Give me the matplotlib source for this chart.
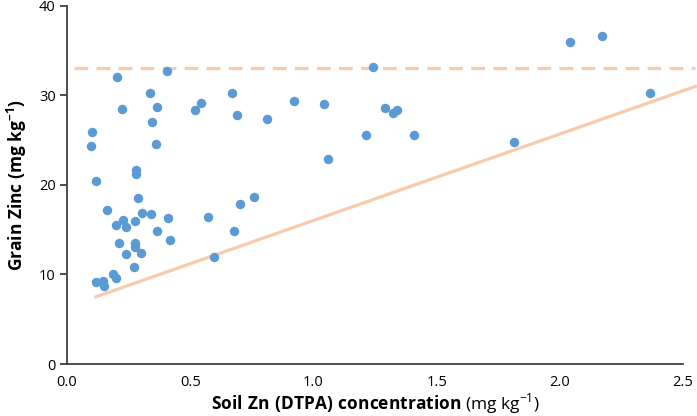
import numpy as np
import matplotlib
matplotlib.use('Agg')
import matplotlib.pyplot as plt

plt.rcParams['font.family'] = 'Open Sans'
plt.rcParams['mathtext.fontset'] = 'custom'
plt.rcParams['mathtext.rm'] = 'Open Sans'
plt.rcParams['mathtext.bf'] = 'Open Sans:bold'

# soil Zn (DTPA) vs grain Zn
soil_zn = [0.100, 0.098, 0.118, 0.163, 0.201, 0.225, 0.336, 0.343, 0.366, 0.362,
           0.404, 0.279, 0.279, 0.290, 0.521, 0.543, 0.671, 0.690, 0.812, 0.922,
           1.042, 1.059, 0.700, 0.757, 1.242, 1.289, 1.321, 1.340, 1.215, 1.409,
           1.812, 2.042, 2.169, 2.366, 0.304, 0.339, 0.228, 0.277, 0.197, 0.238,
           0.409, 0.571, 0.676, 0.366, 0.417, 0.213, 0.277, 0.277, 0.239, 0.302,
           0.270, 0.596, 0.185, 0.200, 0.119, 0.146, 0.151]
grain_zn = [25.9, 24.4, 20.4, 17.2, 32.0, 28.5, 30.3, 27.0, 28.7, 24.6,
            32.7, 21.7, 21.2, 18.5, 28.4, 29.2, 30.3, 27.8, 27.4, 29.4,
            29.0, 22.9, 17.9, 18.7, 33.2, 28.6, 28.0, 28.4, 25.6, 25.6,
            24.8, 36.0, 36.6, 30.3, 16.9, 16.7, 16.1, 16.0, 15.5, 15.3,
            16.3, 16.4, 14.8, 14.9, 13.8, 13.5, 13.5, 13.1, 12.3, 12.4,
            10.8, 11.9, 10.1, 9.6, 9.2, 9.3, 8.7]

# boundary line and target level
bound_x = [0.117, 2.55]
bound_y = [7.5, 31.0]
target_x = [0.03, 2.55]
target_y = [33.1, 33.1]

fig = plt.figure(figsize=(6.97, 4.16), dpi=100)
ax = fig.add_axes([0.0961, 0.125, 0.884, 0.861])

ax.plot(bound_x, bound_y, color='#F8CBAD', lw=2.3, clip_on=False, zorder=2)
ax.plot(target_x, target_y, color='#F8CBAD', lw=2.3, dashes=(4.3, 2.6),
        clip_on=False, zorder=2)
ax.plot(soil_zn, grain_zn, 'o', color='#5B9BD5', ms=6.8, mec='none',
        clip_on=False, zorder=3)

ax.set_xlim(0, 2.5)
ax.set_ylim(0, 40)
ax.set_xticks(np.arange(0, 2.51, 0.5))
ax.set_xticklabels(['0.0', '0.5', '1.0', '1.5', '2.0', '2.5'])
ax.set_yticks([0, 10, 20, 30, 40])

for s in ['top', 'right']:
    ax.spines[s].set_visible(False)
for s in ['left', 'bottom']:
    ax.spines[s].set_color('#404040')
    ax.spines[s].set_linewidth(1.3)
ax.tick_params(axis='x', length=0, pad=8, labelsize=10.5, colors='#404040',
               labelcolor='black')
ax.tick_params(axis='y', length=5, width=1.3, colors='#404040', pad=3,
               labelsize=10.5, labelcolor='black')

ax.set_xlabel(r'$\mathbf{Soil\ Zn\ (DTPA)\ concentration}$ (mg kg$^{-1}$)',
              fontsize=12.5, labelpad=1)
ax.set_ylabel(r'Grain Zinc (mg kg$^{\mathbf{-1}}$)', fontsize=12.5,
              fontweight='bold', labelpad=7)

plt.savefig('out.png', dpi=100)
